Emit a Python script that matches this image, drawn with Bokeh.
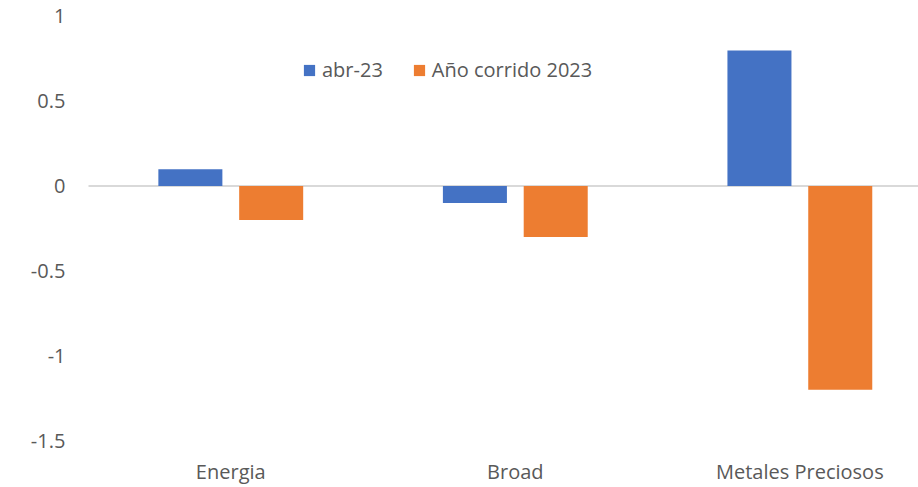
from bokeh.plotting import figure
from bokeh.models import ColumnDataSource, Legend, LegendItem, FixedTicker, Range1d
from bokeh.core.properties import value
from bokeh.embed import file_html
from bokeh.resources import INLINE

categories = ["Energia", "Broad", "Metales Preciosos"]
abr_23 = [0.1, -0.1, 0.8]
anio_corrido_2023 = [-0.2, -0.3, -1.2]
series_names = ["abr-23", "Año corrido 2023"]
y_ticks = [-1.5, -1, -0.5, 0, 0.5, 1]
y_tick_labels = ["-1.5", "-1", "-0.5", "0", "0.5", "1"]

BLUE = "#4472C4"
ORANGE = "#ED7D31"
TEXT = "#595959"
FONT = "Open Sans"
FS_PX = 20
FS = f"{FS_PX}px"

centers = [i + 0.5 for i in range(len(categories))]
offset = 0.142
bar_w = 0.225
# plot area: categories from 0 to x_end; the negative part of the frame holds the value labels
cat_start, x_end = 0, 2.917
x_start = -0.3093
# value range -1.5..1 with extra room so the end labels are not clipped
y_lo, y_hi = -1.5, 1.0
y_start, y_end = -1.5884, 1.0943

src = ColumnDataSource(dict(
    x1=[c - offset for c in centers],
    x2=[c + offset for c in centers],
    a=abr_23,
    b=anio_corrido_2023,
))

p = figure(width=918, height=487, output_backend="svg", toolbar_location=None,
           x_range=Range1d(x_start, x_end), y_range=Range1d(y_start, y_end),
           min_border_left=0, min_border_right=0, min_border_top=0, min_border_bottom=32)
p.outline_line_color = None
p.xgrid.grid_line_color = None
p.ygrid.grid_line_color = None
p.background_fill_color = "white"
p.border_fill_color = "white"
p.yaxis.visible = False

# zero line across the plot area
p.segment(x0=[cat_start], x1=[x_end], y0=[0], y1=[0], line_color="#D9D9D9", line_width=2)

r1 = p.vbar(x="x1", top="a", bottom=0, width=bar_w, source=src, fill_color=BLUE, line_color=None)
r2 = p.vbar(x="x2", top="b", bottom=0, width=bar_w, source=src, fill_color=ORANGE, line_color=None)

# x axis
ax = p.xaxis
ax.axis_line_color = None
ax.major_tick_line_color = None
ax.minor_tick_line_color = None
ax.major_tick_out = 0
ax.major_tick_in = 0
ax.minor_tick_out = 0
ax.minor_tick_in = 0
ax.major_label_text_font = FONT
ax.major_label_text_font_size = FS
ax.major_label_text_color = TEXT
ax.ticker = FixedTicker(ticks=centers)
ax.major_label_overrides = {c: cat for c, cat in zip(centers, categories)}
ax.major_label_standoff = 2

# value labels, right aligned 23px left of the plot area (widths from Open Sans advances)
adv = {"-": 0.322, ".": 0.266}
def text_w(s):
    return sum(adv.get(ch, 0.572) for ch in s) * FS_PX

ylab_src = ColumnDataSource(dict(
    x=[cat_start] * len(y_ticks), y=y_ticks, text=y_tick_labels,
    dx=[-23 - text_w(t) for t in y_tick_labels],
))
p.text(x="x", y="y", text="text", source=ylab_src, x_offset="dx",
       text_align="left", text_baseline="middle",
       text_font=value(FONT), text_font_size=FS, text_color=TEXT)

legend = Legend(items=[LegendItem(label=series_names[0], renderers=[r1]),
                       LegendItem(label=series_names[1], renderers=[r2])],
                orientation="horizontal", location=(302, 372),
                glyph_width=14, glyph_height=14, label_standoff=6, spacing=29,
                padding=0, margin=0, border_line_color=None, background_fill_alpha=0,
                label_text_font=FONT, label_text_font_size=FS, label_text_color=TEXT,
                label_height=20)
p.add_layout(legend)

open("out.html", "w").write(file_html(p, INLINE))
